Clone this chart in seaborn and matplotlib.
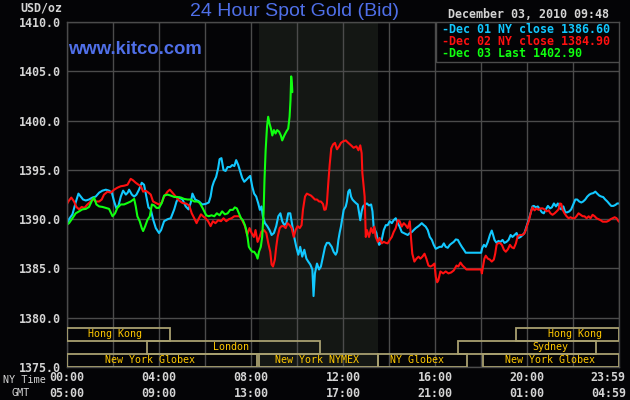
import matplotlib
matplotlib.use("Agg")
import numpy as np
import pandas as pd
import matplotlib.pyplot as plt
import matplotlib.transforms as mtransforms
from matplotlib.patches import Rectangle
import seaborn as sns

# ---------------- data (NY time in hours, price USD/oz) ----------------
dec01_hours = [0.0, 0.10, 0.25, 0.39, 0.51, 0.61, 0.71, 0.83, 0.97, 1.12, 1.26, 1.41, 1.55, 1.70, 1.84, 1.96,
               2.06, 2.16, 2.25, 2.35, 2.45, 2.57, 2.65, 2.71, 2.83, 2.93, 3.03, 3.14, 3.26, 3.36, 3.46, 3.55,
               3.65, 3.75, 3.87, 4.01, 4.10, 4.23, 4.38, 4.52, 4.67, 4.77, 4.88, 5.03, 5.17, 5.29, 5.39, 5.46,
               5.58, 5.75, 5.88, 6.03, 6.17, 6.25, 6.32, 6.39, 6.49, 6.58, 6.64, 6.72, 6.81, 6.90, 6.99, 7.10,
               7.19, 7.28, 7.36, 7.45, 7.54, 7.62, 7.71, 7.80, 7.88, 7.97, 8.06, 8.14, 8.23, 8.32, 8.39, 8.46,
               8.52, 8.61, 8.71, 8.81, 8.90, 9.00, 9.10, 9.19, 9.28, 9.36, 9.45, 9.54, 9.62, 9.71, 9.80, 9.88,
               9.97, 10.06, 10.14, 10.23, 10.32, 10.41, 10.49, 10.58, 10.67, 10.72, 10.78, 10.87, 10.96, 11.04,
               11.13, 11.22, 11.30, 11.39, 11.51, 11.59, 11.68, 11.74, 11.80, 11.86, 11.91, 11.97, 12.03, 12.12,
               12.17, 12.23, 12.29, 12.35, 12.41, 12.49, 12.58, 12.64, 12.70, 12.75, 12.81, 12.87, 12.96, 13.04,
               13.13, 13.22, 13.28, 13.33, 13.39, 13.45, 13.51, 13.57, 13.62, 13.68, 13.77, 13.86, 13.94, 14.03,
               14.12, 14.20, 14.29, 14.38, 14.46, 14.55, 14.64, 14.72, 14.81, 14.90, 14.99, 15.07, 15.16, 15.25,
               15.33, 15.42, 15.51, 15.59, 15.68, 15.77, 15.86, 15.94, 16.03, 16.12, 16.20, 16.29, 16.38, 16.46,
               16.55, 16.64, 16.72, 16.81, 16.90, 16.99, 17.07, 17.16, 17.25, 17.33, 18.00, 18.04, 18.12, 18.20,
               18.29, 18.38, 18.46, 18.52, 18.58, 18.67, 18.75, 18.84, 18.93, 19.01, 19.10, 19.19, 19.28, 19.36,
               19.45, 19.54, 19.62, 19.71, 19.80, 19.88, 19.97, 20.06, 20.12, 20.17, 20.23, 20.29, 20.38, 20.46,
               20.55, 20.64, 20.72, 20.81, 20.90, 20.99, 21.07, 21.16, 21.25, 21.33, 21.42, 21.48, 21.57, 21.65,
               21.74, 21.83, 21.91, 22.00, 22.09, 22.17, 22.26, 22.35, 22.43, 22.52, 22.61, 22.70, 22.78, 22.87,
               22.96, 23.04, 23.13, 23.22, 23.30, 23.39, 23.48, 23.57, 23.65, 23.74, 23.83, 23.91, 23.98]
dec01_price = [1389.3, 1390.0, 1390.5, 1391.7, 1392.6, 1392.3, 1392.0, 1391.9, 1392.0, 1392.2, 1392.3, 1392.7,
               1392.9, 1393.0, 1392.9, 1392.7, 1391.8, 1391.1, 1391.4, 1392.3, 1392.9, 1392.5, 1392.7, 1393.0,
               1392.5, 1392.3, 1392.5, 1393.0, 1393.7, 1393.5, 1392.3, 1391.2, 1391.0, 1390.0, 1389.1, 1388.6,
               1388.9, 1389.8, 1390.0, 1390.1, 1391.0, 1391.8, 1392.2, 1392.0, 1391.3, 1391.0, 1391.7, 1392.6,
               1392.0, 1391.8, 1391.5, 1391.55, 1391.7, 1392.3, 1393.3, 1393.8, 1394.3, 1395.2, 1396.1, 1396.2,
               1395.0, 1394.9, 1395.3, 1395.3, 1395.5, 1395.4, 1396.0, 1395.5, 1394.8, 1394.2, 1393.8, 1394.0,
               1394.2, 1394.4, 1393.3, 1392.6, 1392.3, 1391.6, 1390.95, 1391.3, 1390.3, 1389.6, 1389.3, 1388.9,
               1388.4, 1388.6, 1389.3, 1390.3, 1390.6, 1389.8, 1389.4, 1389.6, 1390.6, 1390.6, 1389.3, 1388.2,
               1387.2, 1386.4, 1387.2, 1386.2, 1386.9, 1386.0, 1385.7, 1385.4, 1384.9, 1382.2, 1384.5, 1385.5,
               1384.9, 1385.2, 1386.2, 1387.2, 1387.6, 1387.6, 1387.2, 1386.7, 1386.4, 1386.7, 1387.9, 1388.7,
               1389.25, 1390.1, 1390.95, 1391.3, 1391.8, 1392.8, 1393.0, 1392.3, 1392.0, 1391.8, 1391.6, 1391.5,
               1390.6, 1389.9, 1390.8, 1391.3, 1391.5, 1391.6, 1391.4, 1391.5, 1390.8, 1389.25, 1388.9, 1388.6,
               1387.9, 1387.4, 1387.55, 1387.9, 1388.9, 1389.4, 1389.4, 1389.8, 1389.6, 1389.9, 1390.1, 1389.6,
               1389.25, 1388.7, 1388.6, 1388.5, 1388.4, 1388.6, 1388.7, 1388.9, 1389.1, 1389.25, 1389.4, 1389.6,
               1389.4, 1389.25, 1388.9, 1388.2, 1387.9, 1387.4, 1387.0, 1387.1, 1387.2, 1387.2, 1387.55, 1387.2,
               1387.1, 1387.4, 1387.55, 1387.7, 1387.95, 1387.9, 1387.55, 1387.2, 1386.9, 1386.6, 1386.6, 1387.05,
               1387.4, 1387.2, 1387.7, 1388.4, 1388.85, 1388.4, 1387.9, 1387.6, 1387.8, 1387.7, 1387.9, 1387.6,
               1387.7, 1387.9, 1388.4, 1388.2, 1388.4, 1388.6, 1388.1, 1388.2, 1388.4, 1388.6, 1389.25, 1389.9,
               1390.4, 1390.8, 1391.3, 1391.35, 1391.2, 1391.3, 1391.0, 1390.7, 1390.6, 1391.0, 1391.35, 1391.1,
               1391.2, 1391.6, 1391.3, 1391.6, 1391.1, 1391.0, 1391.3, 1390.7, 1390.7, 1390.8, 1391.0, 1391.5,
               1392.0, 1392.0, 1391.8, 1391.7, 1391.8, 1392.0, 1392.3, 1392.5, 1392.6, 1392.65, 1392.8, 1392.6,
               1392.4, 1392.3, 1392.25, 1392.0, 1391.8, 1391.55, 1391.35, 1391.35, 1391.45, 1391.6, 1391.6]

dec02_hours = [0.0, 0.10, 0.20, 0.32, 0.42, 0.54, 0.65, 0.77, 0.90, 1.04, 1.14, 1.26, 1.41, 1.52, 1.62, 1.77,
               1.91, 2.06, 2.20, 2.35, 2.49, 2.64, 2.78, 2.88, 3.00, 3.12, 3.22, 3.32, 3.43, 3.55, 3.65, 3.75,
               3.87, 4.01, 4.13, 4.23, 4.38, 4.48, 4.59, 4.74, 4.88, 5.03, 5.17, 5.32, 5.43, 5.54, 5.64, 5.72,
               5.83, 5.92, 6.03, 6.14, 6.25, 6.35, 6.46, 6.58, 6.70, 6.81, 6.93, 7.04, 7.16, 7.28, 7.39, 7.51,
               7.62, 7.74, 7.84, 7.94, 8.03, 8.13, 8.20, 8.29, 8.38, 8.46, 8.57, 8.67, 8.75, 8.84, 8.90, 8.96,
               9.04, 9.10, 9.16, 9.25, 9.33, 9.42, 9.51, 9.59, 9.68, 9.77, 9.86, 9.94, 10.03, 10.12, 10.20, 10.26,
               10.35, 10.43, 10.52, 10.61, 10.70, 10.78, 10.87, 10.96, 11.04, 11.13, 11.19, 11.25, 11.30, 11.36,
               11.42, 11.49, 11.57, 11.65, 11.74, 11.83, 11.91, 12.00, 12.12, 12.23, 12.35, 12.46, 12.58, 12.67,
               12.75, 12.81, 12.84, 12.90, 12.94, 12.99, 13.04, 13.13, 13.22, 13.30, 13.36, 13.42, 13.51, 13.59,
               13.68, 13.77, 13.86, 13.94, 14.03, 14.12, 14.20, 14.29, 14.38, 14.46, 14.55, 14.64, 14.72, 14.81,
               14.90, 14.96, 15.01, 15.10, 15.19, 15.28, 15.36, 15.45, 15.54, 15.62, 15.71, 15.80, 15.88, 15.97,
               16.03, 16.09, 16.14, 16.23, 16.35, 16.46, 16.58, 16.70, 16.81, 16.93, 17.01, 17.10, 17.19, 17.28,
               17.36, 18.00, 18.03, 18.09, 18.14, 18.20, 18.29, 18.38, 18.46, 18.55, 18.61, 18.67, 18.72, 18.81,
               18.90, 18.99, 19.07, 19.16, 19.25, 19.33, 19.42, 19.51, 19.59, 19.68, 19.77, 19.86, 19.94, 20.00,
               20.06, 20.12, 20.17, 20.23, 20.32, 20.41, 20.49, 20.58, 20.67, 20.75, 20.84, 20.93, 21.01, 21.10,
               21.19, 21.28, 21.36, 21.42, 21.48, 21.54, 21.62, 21.71, 21.80, 21.88, 21.97, 22.06, 22.14, 22.23,
               22.32, 22.41, 22.49, 22.58, 22.67, 22.75, 22.84, 22.93, 23.01, 23.10, 23.19, 23.28, 23.36, 23.45,
               23.54, 23.62, 23.71, 23.80, 23.88, 23.98]
dec02_price = [1391.5, 1391.9, 1392.2, 1391.8, 1391.25, 1391.0, 1391.25, 1391.15, 1391.5, 1391.8, 1392.06,
               1391.8, 1391.8, 1392.0, 1392.5, 1392.8, 1392.7, 1393.0, 1393.2, 1393.35, 1393.4, 1393.5, 1394.1,
               1393.95, 1393.7, 1393.5, 1393.35, 1392.8, 1392.9, 1392.7, 1392.5, 1391.8, 1391.65, 1391.5, 1391.7,
               1392.3, 1392.8, 1393.0, 1392.7, 1392.3, 1391.9, 1391.65, 1391.6, 1391.4, 1390.6, 1390.1, 1389.6,
               1390.0, 1390.5, 1390.3, 1390.1, 1389.8, 1389.3, 1389.8, 1389.6, 1389.9, 1389.8, 1390.1, 1389.8,
               1390.0, 1390.1, 1390.3, 1390.3, 1390.3, 1389.9, 1389.3, 1388.4, 1389.1, 1388.6, 1388.2, 1388.9,
               1387.7, 1388.2, 1388.75, 1388.9, 1388.6, 1387.6, 1386.7, 1385.4, 1385.2, 1385.9, 1387.2, 1388.2,
               1389.1, 1389.3, 1389.3, 1389.1, 1389.6, 1389.4, 1389.1, 1388.2, 1388.9, 1389.3, 1389.1, 1389.4,
               1390.95, 1392.3, 1392.6, 1392.5, 1392.4, 1392.2, 1392.0, 1392.0, 1391.8, 1391.8, 1391.55, 1390.95,
               1391.0, 1391.6, 1393.65, 1395.5, 1397.2, 1397.6, 1397.75, 1397.1, 1397.4, 1397.75, 1397.9, 1398.0,
               1397.75, 1397.5, 1397.25, 1397.4, 1397.0, 1397.5, 1396.7, 1394.7, 1393.2, 1392.3, 1388.2, 1388.9,
               1388.2, 1389.1, 1388.6, 1389.25, 1388.2, 1387.7, 1388.1, 1387.55, 1387.7, 1387.6, 1387.55, 1387.9,
               1388.2, 1388.7, 1389.1, 1389.9, 1389.8, 1389.25, 1389.6, 1389.4, 1389.1, 1389.8, 1387.9, 1386.5,
               1385.7, 1386.0, 1386.2, 1386.0, 1386.2, 1386.5, 1386.0, 1385.3, 1385.2, 1385.3, 1385.5, 1384.15,
               1383.6, 1383.8, 1384.7, 1384.5, 1384.7, 1384.5, 1384.6, 1384.8, 1385.3, 1385.2, 1385.6, 1385.3,
               1385.1, 1384.9, 1384.9, 1384.5, 1385.35, 1386.0, 1386.3, 1386.0, 1385.9, 1385.7, 1385.9, 1386.5,
               1387.4, 1387.55, 1387.6, 1387.4, 1386.9, 1386.7, 1386.95, 1387.4, 1387.15, 1387.05, 1387.55, 1388.3,
               1388.4, 1388.4, 1388.5, 1388.9, 1389.4, 1389.75, 1390.3, 1390.8, 1391.2, 1390.9, 1391.1, 1390.95,
               1391.1, 1391.1, 1391.0, 1390.8, 1390.9, 1390.6, 1390.45, 1390.6, 1390.8, 1391.0, 1391.6, 1391.55,
               1390.95, 1390.6, 1390.3, 1390.1, 1390.2, 1390.1, 1390.1, 1390.3, 1390.6, 1390.45, 1390.3, 1390.3,
               1390.1, 1390.3, 1390.1, 1390.45, 1390.3, 1390.1, 1390.0, 1389.9, 1389.75, 1389.75, 1389.75, 1389.85,
               1390.0, 1390.1, 1390.2, 1390.1, 1389.75]

dec03_hours = [0.0, 0.10, 0.25, 0.39, 0.54, 0.68, 0.83, 0.97, 1.12, 1.19, 1.29, 1.41, 1.55, 1.70, 1.84, 1.99,
               2.10, 2.20, 2.35, 2.49, 2.64, 2.78, 2.93, 3.00, 3.07, 3.17, 3.26, 3.32, 3.41, 3.51, 3.61, 3.70,
               3.80, 3.90, 4.01, 4.13, 4.23, 4.38, 4.52, 4.67, 4.81, 4.96, 5.10, 5.25, 5.39, 5.54, 5.68, 5.78,
               5.90, 6.06, 6.17, 6.29, 6.41, 6.52, 6.64, 6.75, 6.87, 6.99, 7.10, 7.22, 7.30, 7.39, 7.48, 7.57,
               7.65, 7.74, 7.80, 7.86, 7.91, 7.99, 8.06, 8.14, 8.23, 8.29, 8.35, 8.43, 8.49, 8.55, 8.59, 8.64,
               8.70, 8.75, 8.81, 8.87, 8.93, 9.00, 9.07, 9.14, 9.22, 9.30, 9.36, 9.45, 9.54, 9.62, 9.68, 9.72,
               9.75, 9.78, 9.80]
dec03_price = [1389.45, 1389.6, 1390.1, 1390.6, 1390.8, 1391.0, 1391.05, 1391.25, 1392.0, 1392.2, 1391.5,
               1391.3, 1391.25, 1391.15, 1391.05, 1390.3, 1390.6, 1391.15, 1391.5, 1391.5, 1391.65, 1391.8,
               1392.06, 1391.3, 1390.3, 1389.8, 1389.1, 1388.8, 1389.3, 1389.95, 1390.3, 1391.5, 1391.4, 1391.15,
               1391.15, 1391.65, 1392.4, 1392.5, 1392.4, 1392.26, 1392.26, 1392.2, 1392.06, 1392.0, 1392.0,
               1391.8, 1391.8, 1391.65, 1391.15, 1390.4, 1390.3, 1390.4, 1390.3, 1390.6, 1390.4, 1390.8, 1390.5,
               1390.6, 1390.95, 1390.95, 1391.2, 1391.1, 1390.6, 1390.1, 1389.9, 1389.4, 1388.9, 1388.1, 1387.2,
               1386.9, 1386.7, 1386.7, 1386.4, 1386.0, 1386.7, 1387.2, 1388.2, 1390.6, 1394.0, 1397.0, 1399.4,
               1400.4, 1399.7, 1399.2, 1398.5, 1399.05, 1398.7, 1399.05, 1398.9, 1398.5, 1398.0, 1398.5, 1398.9,
               1399.2, 1400.4, 1402.1, 1404.5, 1403.8, 1402.9]

dec01_close = 1386.60
dec02_close = 1384.90
dec03_last = 1402.90

y_ticks = [1375, 1380, 1385, 1390, 1395, 1400, 1405, 1410]
x_ticks = [0, 4, 8, 12, 16, 20, 24]
ny_labels = ["00:00", "04:00", "08:00", "12:00", "16:00", "20:00", "23:59"]
gmt_labels = ["05:00", "09:00", "13:00", "17:00", "21:00", "01:00", "04:59"]

# market sessions: (name, start hour, end hour, row)
sessions_name = ["Hong Kong", "London", "New York Globex", "New York NYMEX", "NY Globex",
                 "Sydney", "Hong Kong", "New York Globex"]
sessions_start = [0.0, 3.5, 0.0, 8.333, 13.5, 17.0, 19.5, 18.08]
sessions_end = [4.5, 11.0, 8.25, 13.5, 17.4, 23.0, 24.0, 24.0]
sessions_row = [0, 1, 2, 2, 2, 1, 0, 2]
sessions_textx = [2.1, 7.14, 3.62, 10.88, 15.22, 21.0, 22.06, 20.97]

# ---------------- style ----------------
BG = "#040406"
GRID = "#4b4b4b"
TXT = "#d4d4d4"
BLUE = "#4f6fe8"
C1, C2, C3 = "#12c8ff", "#ff1010", "#10ff10"

sns.set_style("dark", rc={"axes.facecolor": BG, "figure.facecolor": BG,
                          "grid.color": GRID, "axes.edgecolor": GRID})
plt.rcParams["font.family"] = ["DejaVu Sans"]
MONO = "DejaVu Sans Mono"

fig = plt.figure(figsize=(6.3, 4.0), dpi=100)
fig.patch.set_facecolor(BG)
ax = fig.add_axes([66.7 / 630, 1 - 367 / 400, (619.3 - 66.7) / 630, (367 - 22.2) / 400])
ax.set_facecolor(BG)

df = pd.concat([
    pd.DataFrame({"hour": dec01_hours, "price": dec01_price, "day": "Dec 01"}),
    pd.DataFrame({"hour": dec02_hours, "price": dec02_price, "day": "Dec 02"}),
    pd.DataFrame({"hour": dec03_hours, "price": dec03_price, "day": "Dec 03"}),
], ignore_index=True)

ax.axvspan(8.333, 13.5, color="#141714", lw=0, zorder=0.2)

sns.lineplot(data=df, x="hour", y="price", hue="day", hue_order=["Dec 01", "Dec 02", "Dec 03"],
             palette={"Dec 01": C1, "Dec 02": C2, "Dec 03": C3}, estimator=None, sort=False,
             linewidth=1.5, legend=False, ax=ax, zorder=2)

ax.set_xlim(0, 24)
ax.set_ylim(1375, 1410)
ax.set_xlabel("")
ax.set_ylabel("")

ax.set_xticks(x_ticks)
ax.set_xticks([2, 6, 10, 14, 18, 22], minor=True)
ax.set_xticklabels([f"{a}\n{b}" for a, b in zip(ny_labels, gmt_labels)])
ax.set_yticks(y_ticks)
ax.set_yticklabels([f"{v:.1f}" for v in y_ticks])
ax.grid(True, which="both", color=GRID, lw=1.0)
ax.tick_params(which="both", length=0, colors=TXT, labelsize=8.4)
ax.tick_params(axis="x", pad=3)
ax.tick_params(axis="y", pad=4)
for lab in ax.get_xticklabels() + ax.get_yticklabels():
    lab.set_family(MONO)
    lab.set_weight("bold")
for lab in ax.get_xticklabels():
    lab.set_linespacing(1.25)
last = ax.get_xticklabels()[-1]
last.set_transform(last.get_transform() + mtransforms.ScaledTranslation(-0.11, 0, fig.dpi_scale_trans))
for s in ax.spines.values():
    s.set_color(GRID)
    s.set_linewidth(1.0)
    s.set_visible(True)

# session boxes
row_lo = [1377.66, 1376.33, 1375.0]
row_h = 1.33
for name, a, b, r, tx in zip(sessions_name, sessions_start, sessions_end, sessions_row, sessions_textx):
    ax.add_patch(Rectangle((a, row_lo[r]), b - a, row_h, fill=False, ec="#a8a070", lw=1.3, zorder=3))
    ax.text(tx, row_lo[r] + row_h / 2, name, ha="center", va="center", color="#ffc800",
            family=MONO, fontsize=7.2, zorder=4)

# legend box
ax.add_patch(Rectangle((16.04, 1405.96), 24 - 16.04, 1410 - 1405.96, fc=BG, ec=GRID, lw=1.0, zorder=5))
leg_items = [(f"-Dec 01 NY close {dec01_close:.2f}", C1, 1409.27),
             (f"-Dec 02 NY close {dec02_close:.2f}", C2, 1408.03),
             (f"-Dec 03 Last {dec03_last:.2f}", C3, 1406.85)]
for txt, col, yy in leg_items:
    ax.text(16.30, yy, txt, ha="left", va="center", color=col, family=MONO, weight="bold",
            fontsize=8.4, zorder=6)

# texts
fig.text(294.5 / 630, 1 - 12 / 400, "24 Hour Spot Gold (Bid)", ha="center", va="center",
         color=BLUE, family="Liberation Sans", fontsize=14)
fig.text(68.3 / 630, 1 - 49 / 400, "www.kitco.com", ha="left", va="center",
         color=BLUE, family="Liberation Sans", weight="bold", fontsize=13.3)
fig.text(447.7 / 630, 1 - 14.7 / 400, "December 03, 2010 09:48", ha="left", va="center",
         color=TXT, family=MONO, weight="bold", fontsize=8.4)
fig.text(62.3 / 630, 1 - 8 / 400, "USD/oz", ha="right", va="center",
         color=TXT, family=MONO, weight="bold", fontsize=8.4)
fig.text(24 / 630, 1 - 380 / 400, "NY Time", ha="center", va="center",
         color=TXT, family=MONO, fontsize=7.3)
fig.text(20.5 / 630, 1 - 392.5 / 400, "GMT", ha="center", va="center",
         color=TXT, family=MONO, fontsize=7.3)

fig.savefig("out.png", dpi=100, facecolor=BG)
